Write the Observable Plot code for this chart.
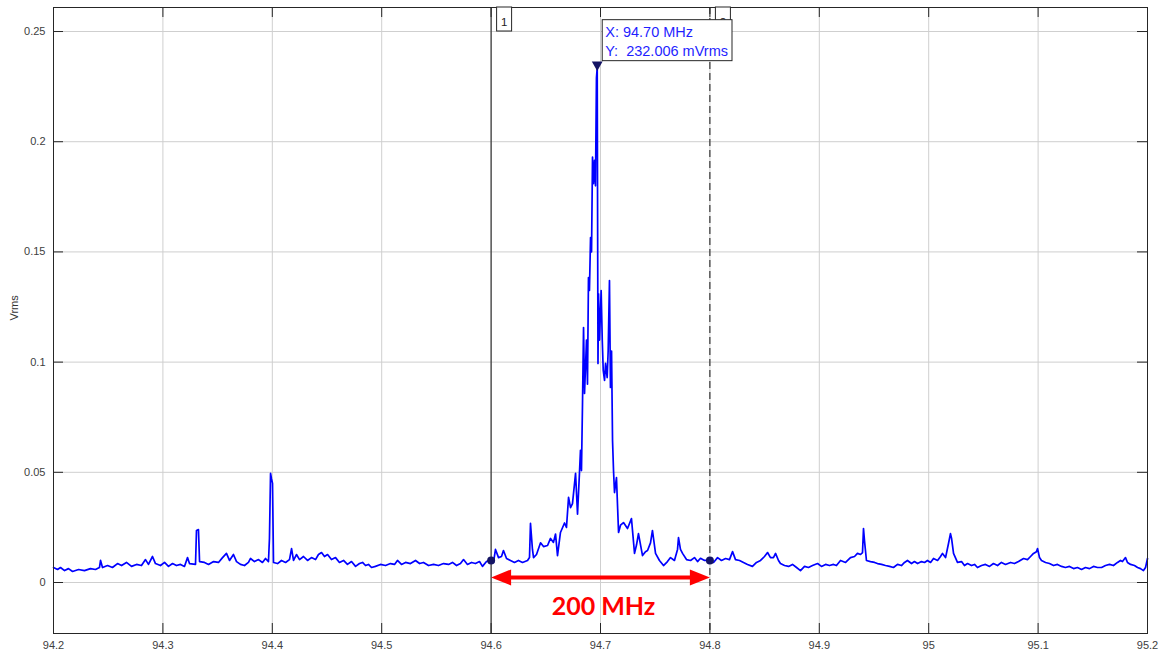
<!DOCTYPE html>
<html><head><meta charset="utf-8">
<script src="https://cdn.jsdelivr.net/npm/d3@7"></script>
<script src="https://cdn.jsdelivr.net/npm/@observablehq/plot@0.6"></script>
<style>html,body{margin:0;padding:0;background:#fff}</style>
</head><body><div id="chart"></div>
<script>
// Spectrum trace: frequency (MHz) and level (Vrms)
const freqMHz = [
94.2000,94.2037,94.2064,94.2101,94.2137,94.2174,94.2229,94.2283,94.2338,94.2384,94.2420,94.2430,94.2448,94.2494,94.2539,94.2585,94.2622,94.2667,94.2713,94.2759,
94.2804,94.2841,94.2868,94.2905,94.2932,94.2978,94.3015,94.3051,94.3088,94.3124,94.3161,94.3197,94.3225,94.3243,94.3298,94.3307,94.3325,94.3335,94.3380,94.3417,
94.3463,94.3508,94.3545,94.3581,94.3609,94.3645,94.3673,94.3709,94.3746,94.3782,94.3801,94.3837,94.3874,94.3910,94.3938,94.3965,94.3974,94.3984,94.3993,94.4002,
94.4011,94.4048,94.4084,94.4121,94.4157,94.4176,94.4194,94.4221,94.4249,94.4285,94.4322,94.4358,94.4395,94.4422,94.4450,94.4477,94.4505,94.4541,94.4578,94.4614,
94.4651,94.4687,94.4724,94.4761,94.4797,94.4825,94.4852,94.4879,94.4907,94.4943,94.4989,94.5035,94.5080,94.5117,94.5144,94.5181,94.5218,94.5263,94.5309,94.5346,
94.5382,94.5428,94.5474,94.5519,94.5565,94.5611,94.5647,94.5684,94.5720,94.5748,94.5784,94.5821,94.5857,94.5894,94.5921,94.5958,94.6000,94.6022,94.6040,94.6068,
94.6095,94.6113,94.6141,94.6177,94.6214,94.6250,94.6287,94.6333,94.6351,94.6360,94.6378,94.6388,94.6415,94.6452,94.6479,94.6516,94.6543,94.6570,94.6589,94.6607,
94.6634,94.6671,94.6689,94.6708,94.6726,94.6744,94.6772,94.6790,94.6808,94.6817,94.6826,94.6835,94.6845,94.6854,94.6872,94.6881,94.6890,94.6899,94.6909,94.6918,
94.6927,94.6936,94.6945,94.6954,94.6963,94.6970,94.6977,94.6982,94.6991,94.7006,94.7016,94.7025,94.7037,94.7046,94.7061,94.7070,94.7082,94.7091,94.7101,94.7110,
94.7119,94.7128,94.7146,94.7165,94.7183,94.7210,94.7247,94.7283,94.7311,94.7329,94.7347,94.7384,94.7411,94.7430,94.7457,94.7475,94.7503,94.7539,94.7576,94.7612,
94.7640,94.7676,94.7704,94.7713,94.7731,94.7750,94.7786,94.7823,94.7859,94.7887,94.7914,94.7951,94.8000,94.8033,94.8070,94.8106,94.8143,94.8179,94.8207,94.8234,
94.8271,94.8307,94.8344,94.8389,94.8426,94.8463,94.8499,94.8527,94.8554,94.8581,94.8600,94.8627,94.8645,94.8682,94.8719,94.8755,94.8792,94.8828,94.8865,94.8901,
94.8938,94.8984,94.9020,94.9057,94.9093,94.9130,94.9157,94.9194,94.9240,94.9285,94.9322,94.9349,94.9377,94.9395,94.9404,94.9413,94.9431,94.9468,94.9505,94.9532,
94.9569,94.9605,94.9642,94.9678,94.9715,94.9751,94.9779,94.9806,94.9843,94.9870,94.9898,94.9934,94.9962,94.9989,95.0017,95.0044,95.0081,95.0108,95.0126,95.0154,
95.0181,95.0199,95.0209,95.0227,95.0263,95.0300,95.0327,95.0355,95.0391,95.0419,95.0446,95.0483,95.0519,95.0556,95.0592,95.0629,95.0665,95.0702,95.0748,95.0784,
95.0821,95.0867,95.0903,95.0931,95.0958,95.0985,95.0995,95.1013,95.1031,95.1068,95.1104,95.1141,95.1177,95.1214,95.1250,95.1287,95.1324,95.1360,95.1397,95.1433,
95.1470,95.1506,95.1543,95.1580,95.1616,95.1653,95.1689,95.1726,95.1753,95.1771,95.1799,95.1817,95.1845,95.1881,95.1909,95.1936,95.1963,95.1982,95.2000
];
const vrms = [
0.0068,0.0059,0.0068,0.0054,0.0063,0.0050,0.0059,0.0054,0.0063,0.0059,0.0068,0.0100,0.0068,0.0077,0.0068,0.0086,0.0077,0.0091,0.0073,0.0082,
0.0077,0.0104,0.0082,0.0118,0.0086,0.0077,0.0091,0.0073,0.0086,0.0077,0.0082,0.0073,0.0113,0.0086,0.0082,0.0236,0.0240,0.0095,0.0091,0.0082,
0.0095,0.0091,0.0113,0.0132,0.0100,0.0127,0.0095,0.0082,0.0077,0.0091,0.0109,0.0095,0.0104,0.0091,0.0109,0.0095,0.0200,0.0495,0.0470,0.0450,
0.0091,0.0086,0.0100,0.0091,0.0104,0.0154,0.0100,0.0127,0.0104,0.0118,0.0100,0.0113,0.0104,0.0127,0.0136,0.0118,0.0127,0.0104,0.0113,0.0091,
0.0100,0.0082,0.0095,0.0073,0.0086,0.0091,0.0077,0.0082,0.0068,0.0073,0.0082,0.0077,0.0086,0.0082,0.0100,0.0082,0.0091,0.0086,0.0100,0.0086,
0.0091,0.0077,0.0082,0.0077,0.0086,0.0082,0.0091,0.0077,0.0086,0.0104,0.0082,0.0091,0.0086,0.0095,0.0073,0.0095,0.0104,0.0091,0.0150,0.0113,
0.0118,0.0145,0.0109,0.0100,0.0091,0.0100,0.0091,0.0100,0.0113,0.0268,0.0150,0.0113,0.0127,0.0180,0.0163,0.0168,0.0200,0.0182,0.0220,0.0122,
0.0227,0.0270,0.0250,0.0386,0.0340,0.0358,0.0495,0.0310,0.0500,0.0600,0.0508,0.0794,0.1157,0.0858,0.1100,0.0900,0.1384,0.1325,0.1565,0.1500,
0.1930,0.1810,0.1915,0.1800,0.2290,0.2336,0.0994,0.1310,0.1100,0.1325,0.1100,0.0962,0.0917,0.0994,0.0930,0.1050,0.1370,0.0885,0.1050,0.0644,
0.0508,0.0408,0.0476,0.0227,0.0260,0.0272,0.0245,0.0290,0.0132,0.0170,0.0222,0.0122,0.0140,0.0145,0.0180,0.0236,0.0132,0.0100,0.0077,0.0095,
0.0113,0.0100,0.0150,0.0204,0.0150,0.0132,0.0104,0.0100,0.0113,0.0095,0.0110,0.0100,0.0100,0.0091,0.0113,0.0100,0.0109,0.0104,0.0140,0.0104,
0.0100,0.0091,0.0082,0.0073,0.0091,0.0100,0.0118,0.0136,0.0113,0.0113,0.0132,0.0100,0.0086,0.0077,0.0073,0.0082,0.0068,0.0054,0.0073,0.0068,
0.0077,0.0086,0.0073,0.0082,0.0077,0.0082,0.0077,0.0100,0.0091,0.0113,0.0118,0.0132,0.0127,0.0136,0.0245,0.0190,0.0100,0.0095,0.0091,0.0086,
0.0082,0.0077,0.0073,0.0068,0.0082,0.0077,0.0091,0.0100,0.0086,0.0095,0.0086,0.0095,0.0091,0.0100,0.0091,0.0109,0.0100,0.0118,0.0132,0.0113,
0.0177,0.0222,0.0200,0.0132,0.0091,0.0095,0.0077,0.0086,0.0077,0.0082,0.0068,0.0077,0.0082,0.0073,0.0086,0.0077,0.0091,0.0082,0.0091,0.0086,
0.0095,0.0109,0.0104,0.0118,0.0132,0.0140,0.0154,0.0113,0.0100,0.0091,0.0086,0.0077,0.0082,0.0073,0.0068,0.0073,0.0063,0.0068,0.0059,0.0068,
0.0063,0.0073,0.0068,0.0068,0.0077,0.0082,0.0077,0.0091,0.0100,0.0095,0.0113,0.0091,0.0082,0.0077,0.0068,0.0063,0.0054,0.0068,0.0109
];
const xTicks = [94.2, 94.3, 94.4, 94.5, 94.6, 94.7, 94.8, 94.9, 95, 95.1, 95.2];
const yTicks = [0, 0.05, 0.1, 0.15, 0.2, 0.25];
const cursorFreqs = [94.6, 94.8];
const cursorLabels = ["1", "2"];
const cursorLevels = [0.0100, 0.0100];
const peakFreq = [94.6970];
const peakLevel = [0.2336];
const tipLines = ["X: 94.70 MHz", "Y:  232.006 mVrms"];
const spanLabel = ["200 MHz"];
const spanLevel = [0.0023];
const spanTextLevel = [-0.0109];

const trace = freqMHz.map((f, i) => ({f, v: vrms[i]}));
const cursors = cursorFreqs.map((f, i) => ({f, v: cursorLevels[i], label: cursorLabels[i]}));
const peak = [{f: peakFreq[0], v: peakLevel[0], text: tipLines.join("\n")}];

const headSymbol = {
  draw(ctx, size) {
    const r = Math.sqrt(size / Math.PI);
    const L = r * 2.5, W = r;
    ctx.moveTo(0, 0); ctx.lineTo(-L, -W); ctx.lineTo(-L, W); ctx.closePath();
  }
};

const plot = Plot.plot({
  width: 1163, height: 658,
  marginLeft: 53, marginRight: 16, marginTop: 7, marginBottom: 25,
  style: {fontFamily: "'Liberation Sans', Arial, sans-serif", fontSize: "11px", color: "#333", background: "#fff"},
  x: {domain: [94.2, 95.2]},
  y: {domain: [-0.02314, 0.2609]},
  marks: [
    Plot.gridX(xTicks, {stroke: "#cfcfcf", strokeOpacity: 1}),
    Plot.gridY(yTicks, {stroke: "#cfcfcf", strokeOpacity: 1}),
    Plot.line(trace, {x: "f", y: "v", stroke: "#0000ff", strokeWidth: 1.7}),
    Plot.ruleX([cursorFreqs[0]], {stroke: "#111", strokeWidth: 1}),
    Plot.ruleX([cursorFreqs[1]], {stroke: "#111", strokeWidth: 1, strokeDasharray: "7,4"}),
    Plot.tickX(xTicks, {x: d => d, stroke: "#262626", insetTop: 616}),
    Plot.tickX(xTicks, {x: d => d, stroke: "#262626", insetBottom: 616}),
    Plot.tickY(yTicks, {y: d => d, stroke: "#262626", insetRight: 1084}),
    Plot.tickY(yTicks, {y: d => d, stroke: "#262626", insetLeft: 1084}),
    Plot.frame({stroke: "#262626"}),
    Plot.axisX(xTicks, {tickSize: 0, tickPadding: 8, label: null, tickFormat: d => String(d), fill: "#404040"}),
    Plot.axisY(yTicks, {tickSize: 0, tickPadding: 8, label: null, tickFormat: d => String(d), fill: "#404040"}),
    Plot.text(["Vrms"], {frameAnchor: "left", dx: -39, rotate: -90, fill: "#333", fontSize: 11}),
    Plot.dot(cursors, {x: "f", y: "v", r: 4, fill: "#141464"}),
    Plot.dot(peak, {x: "f", y: "v", symbol: "triangle", rotate: 180, r: 4, dy: -3, fill: "#141464"}),
    // red span arrow
    Plot.ruleY(spanLevel, {y: d => d, x1: () => cursorFreqs[0], x2: () => cursorFreqs[1], stroke: "#ff0000", strokeWidth: 4, insetLeft: 12, insetRight: 12}),
    Plot.dot([cursorFreqs[1]], {x: d => d, y: () => spanLevel[0], symbol: headSymbol, r: 8, fill: "#ff0000"}),
    Plot.dot([cursorFreqs[0]], {x: d => d, y: () => spanLevel[0], symbol: headSymbol, r: 8, rotate: 180, fill: "#ff0000"}),
    Plot.text(spanLabel, {x: () => (cursorFreqs[0] + cursorFreqs[1]) / 2, y: () => spanTextLevel[0], dx: 3, fill: "#ff0000", fontSize: 25, fontWeight: "bold", fontFamily: "Lato, 'Open Sans', sans-serif"}),
    // cursor labels
    Plot.text(cursors, {x: "f", text: "label", frameAnchor: "top", dx: 13, dy: 10, fontSize: 11.5, fill: "#222", className: "cursorlab"}),
    // data tip
    Plot.text(peak, {x: "f", y: "v", text: "text", textAnchor: "start", lineAnchor: "bottom", dx: 8, dy: -12, fontSize: 14.5, lineHeight: 1.31, fill: "#1f1fff", className: "datatip"})
  ]
});
document.getElementById("chart").append(plot);

// boxes behind annotation labels, in SVG root coordinates
function addBoxes(cls, mode) {
  const svgBox = plot.getBoundingClientRect();
  plot.querySelectorAll("g." + cls).forEach(g => {
    g.querySelectorAll("text").forEach(t => {
      const b = t.getBoundingClientRect();
      const bx = b.left - svgBox.left, by = b.top - svgBox.top;
      let x, y, w, h;
      if (mode === "cursor") { x = bx + b.width / 2 - 7.5; y = 7; w = 15; h = 24; }
      else { x = bx - 3; y = by - 4; w = b.width + 7; h = b.height + 6; }
      const rect = document.createElementNS("http://www.w3.org/2000/svg", "rect");
      rect.setAttribute("x", x); rect.setAttribute("y", y);
      rect.setAttribute("width", w); rect.setAttribute("height", h);
      rect.setAttribute("fill", "#fff"); rect.setAttribute("stroke", "#262626"); rect.setAttribute("stroke-width", "1");
      g.parentNode.insertBefore(rect, g);
    });
  });
}
addBoxes("cursorlab", "cursor");
addBoxes("datatip", "tip");
</script>
</body></html>
